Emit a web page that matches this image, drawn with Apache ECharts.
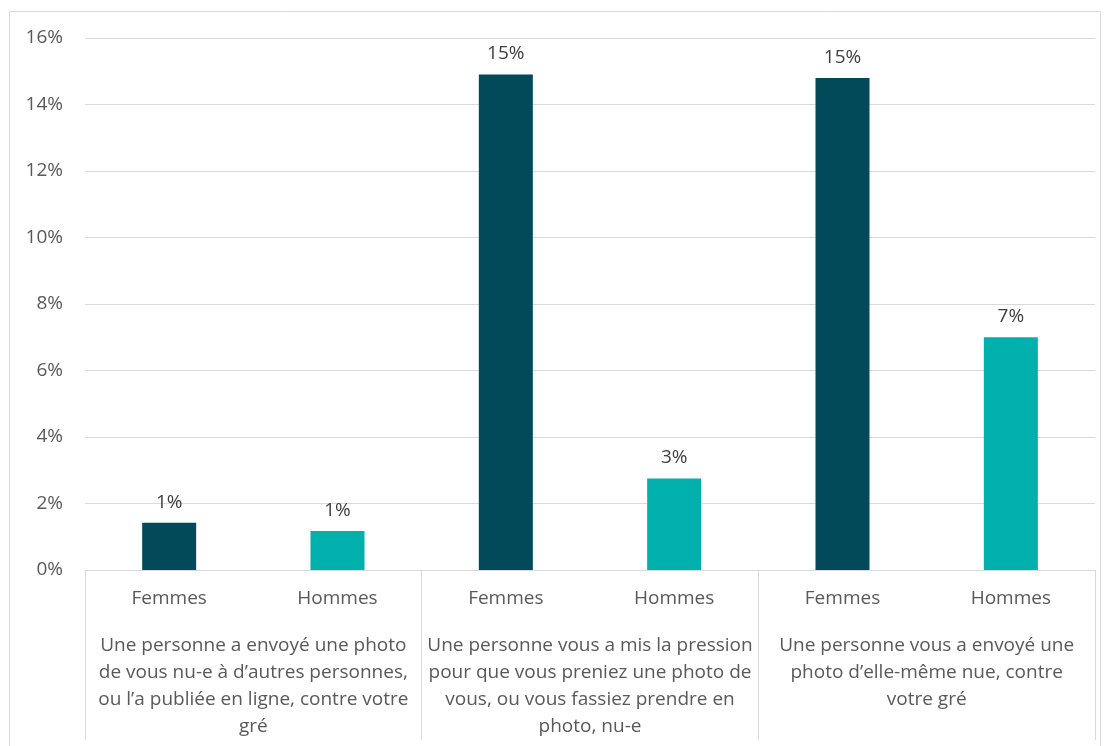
<!DOCTYPE html>
<html>
<head>
<meta charset="utf-8">
<script src="https://cdn.jsdelivr.net/npm/echarts@6/dist/echarts.min.js"></script>
<style>
  html, body { margin: 0; padding: 0; background: #ffffff; }
  #chart { width: 1109px; height: 746px; }
</style>
</head>
<body>
<div id="chart"></div>
<script>
// Situations (group labels, wrapped as on the axis)
const situations = [
  "Une personne a envoyé une photo\nde vous nu-e à d’autres personnes,\nou l’a publiée en ligne, contre votre\ngré",
  "Une personne vous a mis la pression\npour que vous preniez une photo de\nvous, ou vous fassiez prendre en\nphoto, nu-e",
  "Une personne vous a envoyé une\nphoto d’elle-même nue, contre\nvotre gré"
];
const genders = ["Femmes", "Hommes"];
// Share of respondents, in percent
const femmes = [1.42, 14.9, 14.8];
const hommes = [1.17, 2.75, 7.0];
const yTicks = [0, 2, 4, 6, 8, 10, 12, 14, 16];

const genderColors = { Femmes: "#024959", Hommes: "#00B0AC" };

// Flatten to one bar per (situation, gender)
const barCats = [];
const barData = [];
situations.forEach((s, i) => {
  genders.forEach(g => {
    barCats.push(g);
    barData.push({
      value: g === "Femmes" ? femmes[i] : hommes[i],
      itemStyle: { color: genderColors[g] }
    });
  });
});

const font = "'Open Sans', 'Noto Sans', sans-serif";
const textColor = "#595959";
const lineColor = "#D9D9D9";
const fs = 19;

const chart = echarts.init(document.getElementById("chart"), null, { renderer: "canvas" });
chart.setOption({
  animation: false,
  backgroundColor: "#ffffff",
  textStyle: { fontFamily: font },
  graphic: [{
    type: "rect",
    shape: { x: 9.5, y: 11.5, width: 1091, height: 760 },
    style: { fill: "none", stroke: lineColor, lineWidth: 1 },
    silent: true
  }],
  grid: { left: 85, right: 14, top: 38, bottom: 176, containLabel: false },
  xAxis: [
    {
      type: "category",
      data: barCats,
      position: "bottom",
      axisLine: { show: true, lineStyle: { color: lineColor, width: 1 } },
      axisTick: { show: false },
      axisLabel: {
        interval: 0, margin: 18, color: textColor,
        fontSize: fs, fontFamily: font, lineHeight: 22
      }
    },
    {
      type: "category",
      data: situations,
      position: "bottom",
      axisLine: { show: false },
      axisTick: {
        show: true, interval: 0, length: 170, inside: false,
        lineStyle: { color: lineColor, width: 1 }
      },
      axisLabel: {
        interval: 0, margin: 62, color: textColor,
        fontSize: fs, fontFamily: font, lineHeight: 27, align: "center"
      }
    }
  ],
  yAxis: {
    type: "value",
    min: yTicks[0],
    max: yTicks[yTicks.length - 1],
    interval: yTicks[1] - yTicks[0],
    axisLine: { show: false },
    axisTick: { show: false },
    splitLine: { lineStyle: { color: lineColor, width: 1 } },
    axisLabel: {
      margin: 22, color: textColor, fontSize: fs, fontFamily: font,
      formatter: v => v + "%"
    }
  },
  series: [{
    type: "bar",
    xAxisIndex: 0,
    data: barData,
    barWidth: 54,
    label: {
      show: true, position: "top", distance: 11,
      color: "#404040", fontSize: fs, fontFamily: font,
      formatter: p => Math.round(p.value) + "%"
    }
  }]
});
</script>
</body>
</html>
